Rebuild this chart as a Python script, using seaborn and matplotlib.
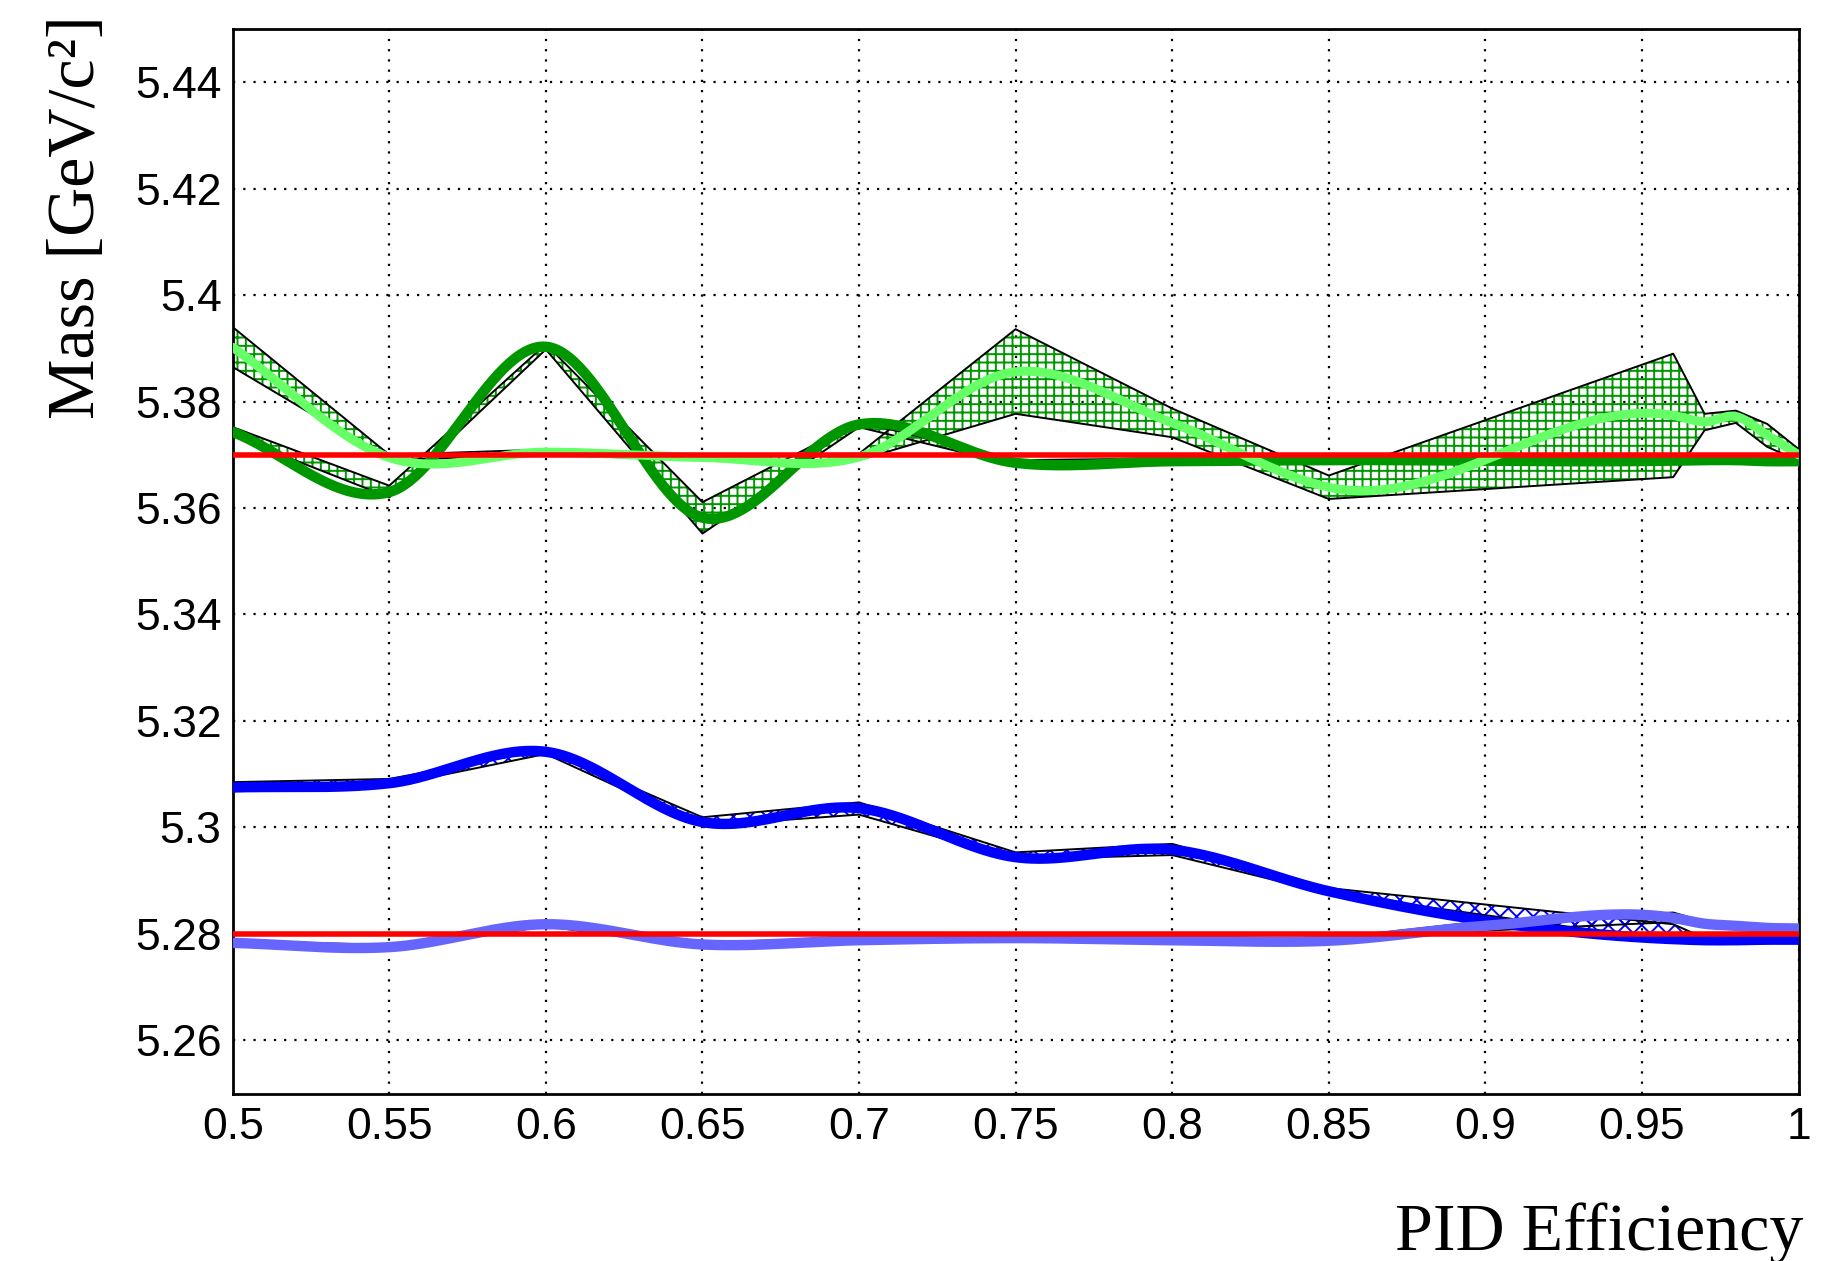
import numpy as np
import pandas as pd
import matplotlib
matplotlib.use("Agg")
import matplotlib.pyplot as plt
from matplotlib.ticker import MultipleLocator, FuncFormatter
import seaborn as sns

# ---------------- data ----------------
x_pts = [0.50, 0.55, 0.60, 0.65, 0.70, 0.75, 0.80, 0.85, 0.96, 0.97, 0.98, 0.99, 1.00]

# dark green series
dg_y  = [5.3743, 5.3630, 5.3903, 5.3582, 5.3757, 5.3685, 5.3688, 5.3690, 5.3689, 5.3690, 5.3690, 5.3688, 5.3688]
dg_lo = [5.3736, 5.3620, 5.3898, 5.3552, 5.3752, 5.3680, 5.3683, 5.3685, 5.3684, 5.3685, 5.3685, 5.3683, 5.3683]
dg_hi = [5.3752, 5.3642, 5.3908, 5.3611, 5.3762, 5.3690, 5.3693, 5.3695, 5.3694, 5.3695, 5.3695, 5.3693, 5.3693]

# light green series
lg_y  = [5.3902, 5.3695, 5.3705, 5.3695, 5.3696, 5.3856, 5.3760, 5.3639, 5.3774, 5.3762, 5.3772, 5.3737, 5.3700]
lg_lo = [5.3865, 5.3690, 5.3700, 5.3690, 5.3690, 5.3777, 5.3733, 5.3617, 5.3658, 5.3746, 5.3760, 5.3715, 5.3689]
lg_hi = [5.3940, 5.3700, 5.3710, 5.3700, 5.3702, 5.3936, 5.3787, 5.3661, 5.3890, 5.3777, 5.3783, 5.3758, 5.3711]

# dark blue series
db_y  = [5.3075, 5.3083, 5.3142, 5.3010, 5.3036, 5.2944, 5.2958, 5.2880, 5.2790, 5.2788, 5.2788, 5.2789, 5.2789]
db_lo = [5.3068, 5.3078, 5.3138, 5.3003, 5.3024, 5.2940, 5.2948, 5.2876, 5.2786, 5.2785, 5.2785, 5.2786, 5.2786]
db_hi = [5.3085, 5.3091, 5.3146, 5.3019, 5.3047, 5.2953, 5.2969, 5.2886, 5.2818, 5.2792, 5.2791, 5.2792, 5.2792]

# light blue series
lb_x  = [0.50, 0.55, 0.60, 0.65, 0.70, 0.75, 0.80, 0.85, 0.90, 0.96, 0.97, 0.98, 0.99, 1.00]
lb_y  = [5.2783, 5.2775, 5.2818, 5.2780, 5.2788, 5.2792, 5.2788, 5.2787, 5.2815, 5.2830, 5.2819, 5.2815, 5.2811, 5.2810]
lb_lo = [5.2779, 5.2771, 5.2814, 5.2776, 5.2784, 5.2788, 5.2784, 5.2783, 5.2806, 5.2822, 5.2815, 5.2811, 5.2807, 5.2806]
lb_hi = [5.2787, 5.2779, 5.2822, 5.2784, 5.2792, 5.2796, 5.2792, 5.2791, 5.2824, 5.2840, 5.2823, 5.2819, 5.2815, 5.2814]

# reference masses (red lines)
ref_masses = [5.37, 5.28]

x_ticks = [0.50, 0.55, 0.60, 0.65, 0.70, 0.75, 0.80, 0.85, 0.90, 0.95, 1.00]
y_ticks = [5.26, 5.28, 5.30, 5.32, 5.34, 5.36, 5.38, 5.40, 5.42, 5.44]

# ---------------- styling ----------------
sns.set_theme(style="white")
plt.rcParams['font.family'] = ['Liberation Sans', 'DejaVu Sans']
plt.rcParams['hatch.linewidth'] = 1.4
plt.rcParams['axes.edgecolor'] = 'black'
plt.rcParams['text.color'] = 'black'

C_DG = '#009600'
C_LG = '#66ff66'
C_DB = '#0000ff'
C_LB = '#6666ff'
C_RED = '#ff0000'


def smooth_curve(x, y, n=60):
    """Smooth drawing through the points (like ROOT's 'C' option)."""
    x = np.asarray(x, float)
    y = np.asarray(y, float)
    h = np.diff(x)
    d = np.diff(y) / h
    m = np.empty_like(y)
    m[0] = d[0]
    m[-1] = d[-1]
    m[1:-1] = (h[1:] * d[:-1] + h[:-1] * d[1:]) / (h[:-1] + h[1:])
    xs, ys = [], []
    for i in range(len(h)):
        t = np.linspace(0, 1, n, endpoint=(i == len(h) - 1))
        h00 = 2 * t**3 - 3 * t**2 + 1
        h10 = t**3 - 2 * t**2 + t
        h01 = -2 * t**3 + 3 * t**2
        h11 = t**3 - t**2
        xs.append(x[i] + t * h[i])
        ys.append(h00 * y[i] + h10 * h[i] * m[i] + h01 * y[i + 1] + h11 * h[i] * m[i + 1])
    return np.concatenate(xs), np.concatenate(ys)


fig = plt.figure(figsize=(18.24, 12.61), dpi=100)
ax = fig.add_axes([0.12757, 0.13283, 0.85845, 0.84417])

# bands
bands = [
    (x_pts, dg_lo, dg_hi, C_DG, '++'),
    (x_pts, lg_lo, lg_hi, C_DG, '++'),
    (x_pts, db_lo, db_hi, C_DB, 'xx'),
    (lb_x, lb_lo, lb_hi, C_DB, 'xx'),
]
for bx, lo, hi, hc, hatch in bands:
    ax.fill_between(bx, lo, hi, facecolor='none', edgecolor=hc, hatch=hatch,
                    linewidth=0, zorder=2)
    for edge in (lo, hi):
        sns.lineplot(x=bx, y=edge, color='black', linewidth=1.4, ax=ax,
                     sort=False, estimator=None, zorder=3)
    for k in (0, -1):
        sns.lineplot(x=[bx[k], bx[k]], y=[lo[k], hi[k]], color='black', linewidth=1.4,
                     ax=ax, sort=False, estimator=None, zorder=3)

# smooth thick curves
curves = [
    (x_pts, dg_y, C_DG, 7.5, 4),
    (x_pts, lg_y, C_LG, 6.5, 5),
    (x_pts, db_y, C_DB, 7.5, 4),
    (lb_x, lb_y, C_LB, 7.5, 5),
]
for cx, cy, col, lw, zo in curves:
    sx, sy = smooth_curve(cx, cy)
    sns.lineplot(x=sx, y=sy, color=col, linewidth=lw, ax=ax, sort=False,
                 estimator=None, zorder=zo)

for mval in ref_masses:
    ax.axhline(mval, color=C_RED, linewidth=4, zorder=6)

# axes
ax.set_xlim(0.5, 1.0)
ax.set_ylim(5.25, 5.45)
ax.set_xticks(x_ticks)
ax.set_yticks(y_ticks)
ax.xaxis.set_minor_locator(MultipleLocator(0.01))
ax.yaxis.set_minor_locator(MultipleLocator(0.005))
fmt = FuncFormatter(lambda v, p: f"{v:g}")
ax.xaxis.set_major_formatter(fmt)
ax.yaxis.set_major_formatter(fmt)

ax.grid(True, which='major', color='black', linestyle=(0, (1, 3.6)), linewidth=1.6)
ax.set_axisbelow(True)

ax.tick_params(axis='both', which='both', direction='in', width=1.6, colors='black',
               top=False, right=False, labelsize=32)
ax.tick_params(axis='x', which='major', length=23, pad=10)
ax.tick_params(axis='x', which='minor', length=11)
ax.tick_params(axis='y', which='major', length=33, pad=8)
ax.tick_params(axis='y', which='minor', length=16.5)

for sp in ax.spines.values():
    sp.set_linewidth(2.0)
    sp.set_color('black')
    sp.set_visible(True)

ax.set_xlabel('')
ax.set_ylabel('')

serif = ['Liberation Serif', 'DejaVu Serif']
fig.text(78 / 1824, 1 - 15 / 1261, 'Mass [GeV/c²]', rotation=90, ha='center', va='top',
         fontsize=49, family=serif, color='black')
fig.text(1803 / 1824, 1 - 1250 / 1261, 'PID Efficiency', ha='right', va='baseline',
         fontsize=49, family=serif, color='black')

fig.savefig('out.png', dpi=100, facecolor='white')
